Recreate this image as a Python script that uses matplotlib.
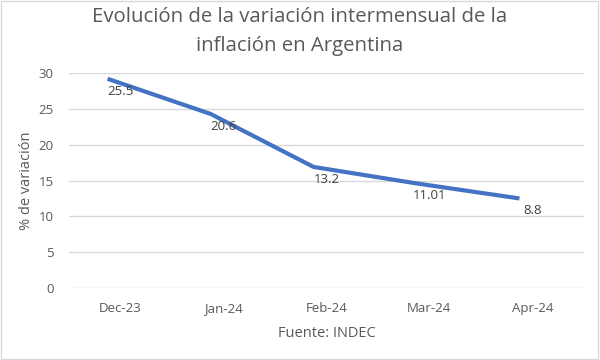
import matplotlib.pyplot as plt
from matplotlib.patches import Rectangle

plt.rcParams['font.family'] = ['Open Sans', 'DejaVu Sans']

# data
months = ["Dec-23", "Jan-24", "Feb-24", "Mar-24", "Apr-24"]
line_values = [29.2, 24.3, 16.9, 14.6, 12.5]
label_texts = ["25.5", "20.6", "13.2", "11.01", "8.8"]

grey = "#595959"
blue = "#4472C4"

fig = plt.figure(figsize=(6, 3.6), dpi=100)
ax = fig.add_axes([0.115, 0.2, 0.858, 0.597])

x = list(range(len(months)))
# the line sits a bit left of the category centres in the original
line_x = [i - 0.125 for i in x]
ax.plot(line_x, line_values, color=blue, linewidth=3, solid_capstyle="butt", zorder=3)

for i, (v, t) in enumerate(zip(line_values, label_texts)):
    ax.annotate(t, (i, v), xytext=(0, -9), textcoords="offset points",
                ha="center", va="center", fontsize=9.5, color="#404040", zorder=4)

ax.set_xlim(-0.5, len(months) - 0.5)
ax.set_ylim(0, 30)
ax.set_yticks(range(0, 31, 5))
ax.set_xticks(x)
ax.set_xticklabels(months)
ax.grid(axis="y", color="#d9d9d9", linewidth=1)
ax.set_axisbelow(True)
for s in ax.spines.values():
    s.set_visible(False)
ax.tick_params(length=0, labelsize=9.5, labelcolor=grey)
ax.tick_params(axis="y", pad=11)
ax.tick_params(axis="x", pad=10)

ax.set_ylabel("% de variación", fontsize=10.5, color=grey, labelpad=3)
ax.set_xlabel("Fuente: INDEC", fontsize=10.5, color=grey, labelpad=8)

fig.text(0.5, 0.952, "Evolución de la variación intermensual de la", ha="center", va="center",
         fontsize=14.7, color=grey)
fig.text(0.5, 0.873, "inflación en Argentina", ha="center", va="center",
         fontsize=14.7, color=grey)

fig.patches.append(Rectangle((0.002, 0.003), 0.995, 0.993, transform=fig.transFigure,
                             fill=False, edgecolor="#d9d9d9", linewidth=1))

fig.savefig("out.png", dpi=100)
